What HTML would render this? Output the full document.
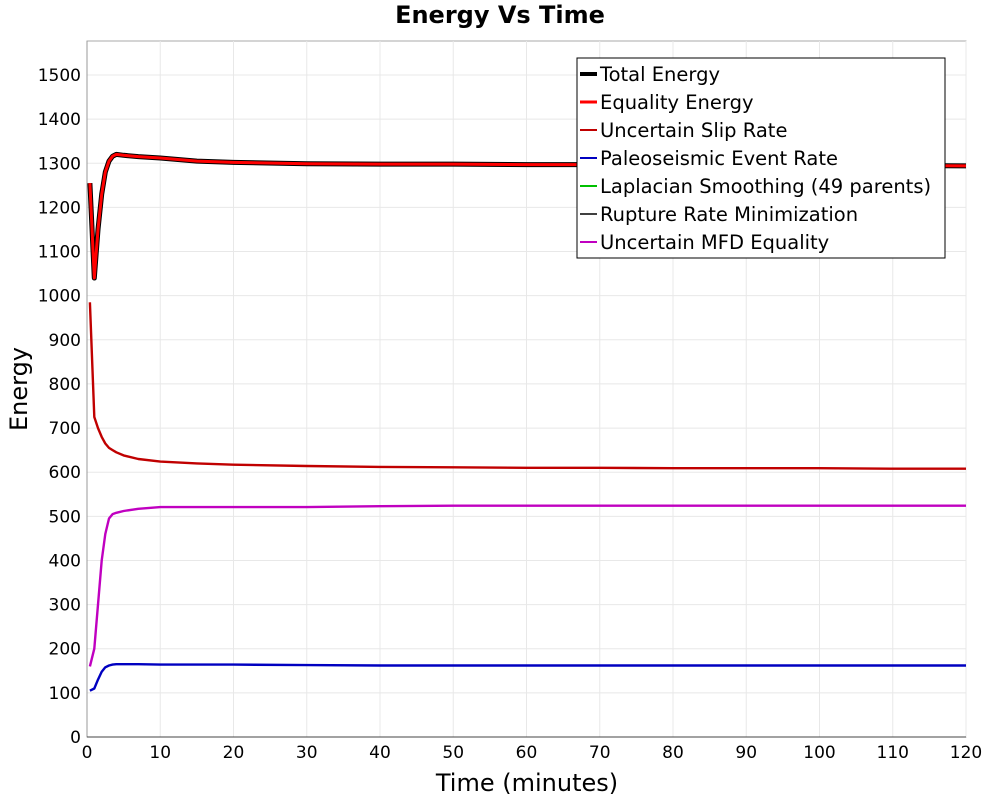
<!DOCTYPE html>
<html><head><meta charset="utf-8"><style>
body{margin:0;background:#fff;font-family:"DejaVu Sans","Liberation Sans",sans-serif}
</style></head><body>
<svg id="chart" width="1000" height="800" xmlns="http://www.w3.org/2000/svg"></svg>
<script>
const times=[0.4,1,1.5,2,2.5,3,3.5,4,5,7,10,15,20,30,40,50,60,70,80,90,100,110,120];
const totalEnergy=[1255,1040,1150,1230,1280,1305,1316,1320,1318,1315,1312,1305,1302,1299,1298,1298,1297,1297,1296,1296,1295,1295,1294];
const equalityEnergy=[1255,1040,1150,1230,1280,1305,1316,1320,1318,1315,1312,1305,1302,1299,1298,1298,1297,1297,1296,1296,1295,1295,1294];
const slipRate=[985,725,700,680,665,655,650,645,638,630,624,620,617,614,612,611,610,610,609,609,609,608,608];
const paleoRate=[105,110,130,148,158,162,164,165,165,165,164,164,164,163,162,162,162,162,162,162,162,162,162];
const mfdEquality=[160,200,300,400,460,495,505,508,512,517,521,521,521,521,523,524,524,524,524,524,524,524,524];
const xTicks=[0,10,20,30,40,50,60,70,80,90,100,110,120];
const yTicks=[0,100,200,300,400,500,600,700,800,900,1000,1100,1200,1300,1400,1500];
const L=87,R=966,T=41,B=737;
const xs=v=>L+(v/120)*(R-L);
const ys=v=>B-v*(B-75)/1500;
const svg=document.getElementById('chart');
const NS='http://www.w3.org/2000/svg';
function mk(t,a,txt){const e=document.createElementNS(NS,t);for(const k in a)e.setAttribute(k,a[k]);if(txt!=null)e.textContent=txt;svg.appendChild(e);return e;}
let e=mk('rect',{x:L,y:T,width:R-L,height:B-T,fill:'#fff',stroke:'#aaa'});


xTicks.forEach(t=>{
 let g=mk('line',{x1:xs(t),x2:xs(t),y1:T,y2:B,stroke:'#e8e8e8'});
 
 
 let l=mk('text',{x:xs(t),y:B+21,'text-anchor':'middle','font-size':17},t);
 
 
});
yTicks.forEach(t=>{
 let g=mk('line',{x1:L,x2:R,y1:ys(t),y2:ys(t),stroke:'#e8e8e8'});
 
 
 let l=mk('text',{x:L-6,y:ys(t)+6,'text-anchor':'end','font-size':17},t);
 
 
});
e=mk('line',{x1:L,x2:L,y1:T,y2:B,stroke:'#999'});


e=mk('line',{x1:L,x2:R,y1:B,y2:B,stroke:'#444'});


function series(vals,color,w,name){
 const d=vals.map((v,i)=>(i?'L':'M')+xs(times[i]).toFixed(1)+' '+ys(v).toFixed(1)).join(' ');
 const p=mk('path',{d:d,fill:'none',stroke:color,'stroke-width':w,'stroke-linejoin':'round'});
 
 
}
series(slipRate,'#c00000',2.4,'series-uncertain-slip-rate');
series(mfdEquality,'#c000c0',2.4,'series-uncertain-mfd-equality');
series(paleoRate,'#0000c0',2.4,'series-paleoseismic-event-rate');
series(totalEnergy,'#000',5,'series-total-energy');
series(equalityEnergy,'#ff0000',3,'series-equality-energy');
e=mk('text',{x:500,y:23,'text-anchor':'middle','font-size':24,'font-weight':'bold'},'Energy Vs Time');


e=mk('text',{x:527,y:791,'text-anchor':'middle','font-size':24},'Time (minutes)');


e=mk('text',{x:27,y:389,'text-anchor':'middle','font-size':24,transform:'rotate(-90 27 389)'},'Energy');


e=mk('rect',{x:577,y:58,width:368,height:200,fill:'#fff',stroke:'#000'});


const legNames=['Total Energy','Equality Energy','Uncertain Slip Rate','Paleoseismic Event Rate','Laplacian Smoothing (49 parents)','Rupture Rate Minimization','Uncertain MFD Equality'];
const legColors=['#000','#ff0000','#c00000','#0000c0','#00c000','#404040','#c000c0'];
const legW=[4,3,2,2,2,2,2];
legNames.forEach((n,i)=>{
 const y=74+i*28;
 let s=mk('line',{x1:580,x2:597,y1:y,y2:y,stroke:legColors[i],'stroke-width':legW[i]});
 
 
 let t=mk('text',{x:600,y:y+7,'font-size':19.5},n);
 
 
});
</script>
</body></html>
